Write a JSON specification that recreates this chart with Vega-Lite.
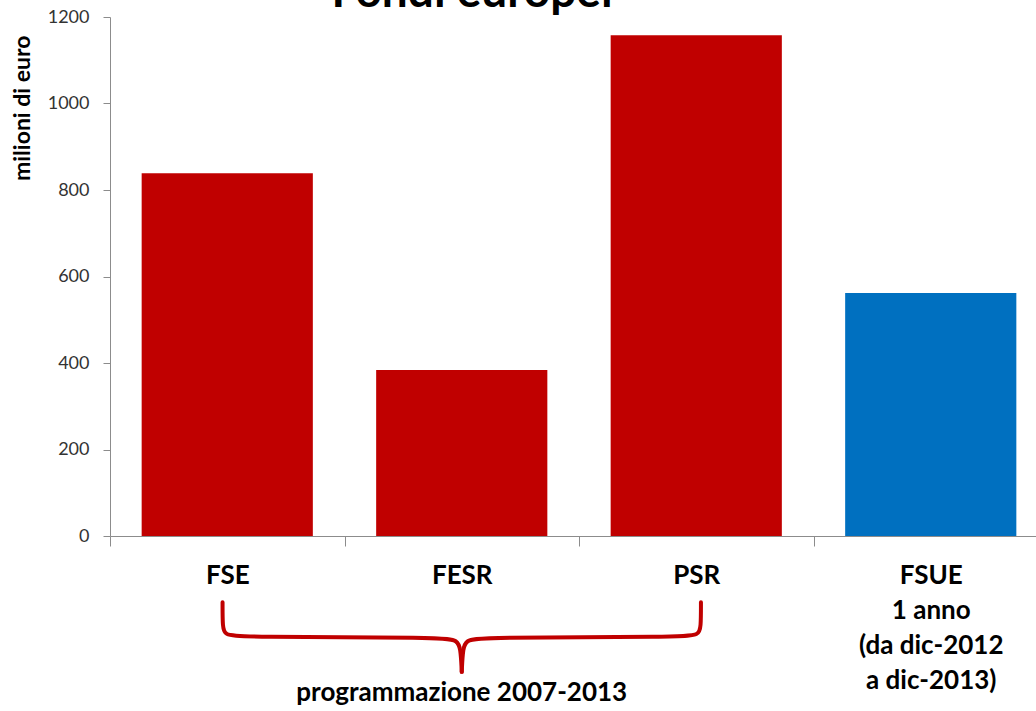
{
  "$schema": "https://vega.github.io/schema/vega-lite/v6.json",
  "autosize": "none",
  "width": 926,
  "height": 519,
  "padding": {"left": 110, "top": 17, "right": 0, "bottom": 175},
  "background": "white",
  "title": {
    "text": "Fondi europei",
    "font": "Lato",
    "fontSize": 46,
    "fontWeight": "bold",
    "color": "black",
    "anchor": "middle",
    "frame": "group",
    "baseline": "alphabetic",
    "offset": 0,
    "dx": -101,
    "dy": 45
  },
  "config": {
    "view": {"stroke": null},
    "font": "Lato"
  },
  "datasets": {
    "bars": [
      {"fondo": "FSE", "valore": 839, "gruppo": "2007-2013"},
      {"fondo": "FESR", "valore": 384, "gruppo": "2007-2013"},
      {"fondo": "PSR", "valore": 1158, "gruppo": "2007-2013"},
      {"fondo": "FSUE", "valore": 562, "gruppo": "FSUE"}
    ],
    "brace": [
      {"lato": "sx", "ord": 1, "xv": 0.48, "yv": -153},
      {"lato": "sx", "ord": 2, "xv": 0.48, "yv": -212},
      {"lato": "sx", "ord": 3, "xv": 0.49, "yv": -228},
      {"lato": "sx", "ord": 4, "xv": 0.55, "yv": -234},
      {"lato": "sx", "ord": 5, "xv": 1.43, "yv": -234},
      {"lato": "sx", "ord": 6, "xv": 1.48, "yv": -242},
      {"lato": "sx", "ord": 7, "xv": 1.495, "yv": -258},
      {"lato": "sx", "ord": 8, "xv": 1.5, "yv": -314},
      {"lato": "dx", "ord": 1, "xv": 2.52, "yv": -153},
      {"lato": "dx", "ord": 2, "xv": 2.52, "yv": -212},
      {"lato": "dx", "ord": 3, "xv": 2.51, "yv": -228},
      {"lato": "dx", "ord": 4, "xv": 2.45, "yv": -234},
      {"lato": "dx", "ord": 5, "xv": 1.57, "yv": -234},
      {"lato": "dx", "ord": 6, "xv": 1.52, "yv": -242},
      {"lato": "dx", "ord": 7, "xv": 1.505, "yv": -258},
      {"lato": "dx", "ord": 8, "xv": 1.5, "yv": -314}
    ],
    "note": [
      {"xv": 1.5, "yv": -363, "testo": "programmazione 2007-2013"}
    ]
  },
  "layer": [
    {
      "data": {"name": "bars"},
      "mark": {"type": "bar", "width": {"band": 0.73}},
      "encoding": {
        "x": {
          "field": "fondo",
          "type": "nominal",
          "sort": null,
          "scale": {"range": [0, 938], "paddingInner": 0, "paddingOuter": 0},
          "axis": {
            "title": null,
            "labelAngle": 0,
            "labelFont": "Lato",
            "labelFontSize": 26,
            "labelFontWeight": "bold",
            "labelColor": "black",
            "labelBaseline": "top",
            "labelPadding": 16,
            "labelLineHeight": 35,
            "labelExpr": "datum.value == 'FSUE' ? ['FSUE', '1 anno', '(da dic-2012', 'a dic-2013)'] : datum.value",
            "tickBand": "extent",
            "tickSize": 10,
            "tickColor": "#8c8c8c",
            "domainColor": "#8c8c8c",
            "labelOverlap": false
          }
        },
        "y": {
          "field": "valore",
          "type": "quantitative",
          "scale": {"domain": [0, 1200], "nice": false},
          "axis": {
            "values": [0, 200, 400, 600, 800, 1000, 1200],
            "format": "d",
            "grid": false,
            "title": "milioni di euro",
            "titleFont": "Lato",
            "titleFontSize": 23,
            "titleFontWeight": "bold",
            "titleColor": "black",
            "titleAngle": -90,
            "titleAlign": "right",
            "titleBaseline": "middle",
            "titleX": -88,
            "titleY": 18,
            "labelFont": "Lato",
            "labelFontSize": 18,
            "labelColor": "#333333",
            "labelPadding": 14,
            "tickSize": 7,
            "tickColor": "#8c8c8c",
            "domainColor": "#8c8c8c"
          }
        },
        "color": {
          "field": "gruppo",
          "type": "nominal",
          "scale": {"domain": ["2007-2013", "FSUE"], "range": ["#C00000", "#0070C0"]},
          "legend": null
        }
      }
    },
    {
      "data": {"name": "brace"},
      "mark": {"type": "line", "color": "#C00000", "strokeWidth": 4, "strokeCap": "round", "strokeJoin": "round", "interpolate": "basis"},
      "encoding": {
        "x": {"field": "xv", "type": "quantitative", "scale": {"domain": [0, 4], "range": [0, 938]}, "axis": null},
        "y": {"field": "yv", "type": "quantitative"},
        "detail": {"field": "lato"},
        "order": {"field": "ord"}
      }
    },
    {
      "data": {"name": "note"},
      "mark": {"type": "text", "font": "Lato", "fontSize": 26, "fontWeight": "bold", "color": "black", "align": "center", "baseline": "middle"},
      "encoding": {
        "x": {"field": "xv", "type": "quantitative", "scale": {"domain": [0, 4], "range": [0, 938]}, "axis": null},
        "y": {"field": "yv", "type": "quantitative"},
        "text": {"field": "testo"}
      }
    }
  ],
  "resolve": {"scale": {"x": "independent"}}
}
